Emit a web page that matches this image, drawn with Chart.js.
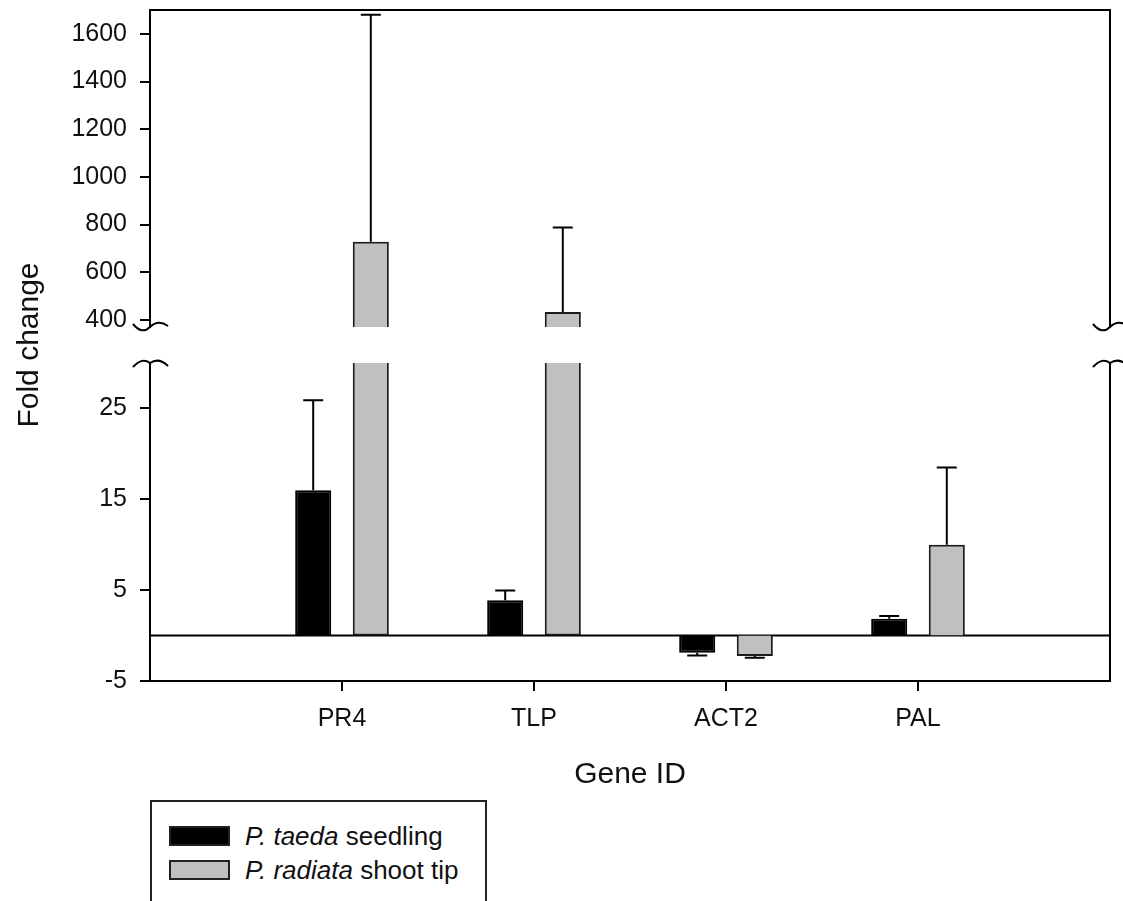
<!DOCTYPE html>
<html>
<head>
<meta charset="utf-8">
<script src="https://cdn.jsdelivr.net/npm/chart.js@4.4.1/dist/chart.umd.min.js"></script>
<style>
  body { margin: 0; background: #fff; }
  #wrap { position: relative; width: 1123px; height: 901px; }
  #legend {
    position: absolute; left: 150px; top: 800px; width: 333px; height: 140px;
    border: 2px solid #222; background: #fff;
    font-family: "Liberation Sans", Arial, sans-serif; font-size: 26px; color: #111;
  }
  #legend .row { position: absolute; left: 17px; height: 26px; display: flex; align-items: center; white-space: nowrap; }
  #legend .sw { width: 61px; height: 20px; box-sizing: border-box; border: 2px solid #222; margin-right: 15px; }
</style>
</head>
<body>
<div id="wrap">
  <canvas id="chart" width="1123" height="901"></canvas>
  <div id="legend">
    <div class="row" style="top:21px"><span class="sw" style="background:#000"></span><span><i>P. taeda</i> seedling</span></div>
    <div class="row" style="top:55px"><span class="sw" style="background:#c0c0c0"></span><span><i>P. radiata</i> shoot tip</span></div>
  </div>
</div>
<script>
// datos
const genes = ["PR4", "TLP", "ACT2", "PAL"];
const taedaMean = [16.0, 3.9, -1.9, 1.85];
const taedaErr = [9.9, 1.05, 0.3, 0.3];
const radiataMean = [728, 433, -2.25, 10.0];
const radiataErr = [952, 354, 0.2, 8.5];

// eje Y partido
const upperTicks = [400, 600, 800, 1000, 1200, 1400, 1600];
const lowerTicks = [-5, 5, 15, 25];
const upperRange = [370, 1700];
const lowerRange = [-5, 30];

const FONT = '"Liberation Sans", Arial, sans-serif';

// etiquetas con huecos a los lados (el eje deja media categoria extra)
const labels = ["", ...genes, ""];
const pad = (arr) => [null, ...arr, null];

const grayLow = radiataMean.map((v) => [0, Math.min(v, lowerRange[1])]);
const grayHigh = radiataMean.map((v) => (v > upperRange[0] ? [upperRange[0], v] : null));

function drawErr(ctx, x, scale, v, e) {
  const dir = v < 0 ? -1 : 1;
  const y0 = scale.getPixelForValue(v);
  const y1 = scale.getPixelForValue(v + dir * e);
  ctx.beginPath();
  ctx.moveTo(x, y0);
  ctx.lineTo(x, y1);
  ctx.moveTo(x - 10, y1);
  ctx.lineTo(x + 10, y1);
  ctx.stroke();
}

function squiggle(ctx, x, y, lower) {
  ctx.beginPath();
  if (!lower) {
    ctx.moveTo(x - 17, y - 3);
    ctx.quadraticCurveTo(x - 8, y + 8, x, y);
    ctx.quadraticCurveTo(x + 8, y - 8, x + 18, y - 1);
  } else {
    ctx.moveTo(x - 17, y + 4);
    ctx.quadraticCurveTo(x - 8, y - 6, x, y);
    ctx.quadraticCurveTo(x + 9, y - 6, x + 18, y + 3);
  }
  ctx.stroke();
}

const framePlugin = {
  id: "frame",
  beforeDatasetsDraw(chart) {
    const { ctx, chartArea } = chart;
    const y0 = chart.scales.yBot.getPixelForValue(0);
    ctx.save();
    ctx.strokeStyle = "#000";
    ctx.lineWidth = 2;
    ctx.beginPath();
    ctx.moveTo(chartArea.left, y0);
    ctx.lineTo(chartArea.right, y0);
    ctx.stroke();
    ctx.restore();
  },
  afterDatasetsDraw(chart) {
    const { ctx, chartArea } = chart;
    const top = chart.scales.yTop;
    const bot = chart.scales.yBot;
    ctx.save();
    ctx.strokeStyle = "#000";
    ctx.lineWidth = 2;

    // barras de error
    const black = chart.getDatasetMeta(0).data;
    const gray = chart.getDatasetMeta(1).data;
    genes.forEach((g, i) => {
      drawErr(ctx, black[i + 1].x, bot, taedaMean[i], taedaErr[i]);
      const sc = radiataMean[i] > lowerRange[1] ? top : bot;
      drawErr(ctx, gray[i + 1].x, sc, radiataMean[i], radiataErr[i]);
    });

    // marco superior y derecho
    ctx.beginPath();
    ctx.moveTo(chartArea.left, chartArea.top);
    ctx.lineTo(chartArea.right, chartArea.top);
    ctx.lineTo(chartArea.right, top.bottom);
    ctx.moveTo(chartArea.right, bot.top);
    ctx.lineTo(chartArea.right, bot.bottom);
    ctx.stroke();

    // marcas de corte
    [chartArea.left, chartArea.right].forEach((x) => {
      squiggle(ctx, x, top.bottom, false);
      squiggle(ctx, x, bot.top, true);
    });
    ctx.restore();
  },
};

const yCommon = {
  type: "linear",
  position: "left",
  stack: "fold",
  stacked: false,
  grid: { drawOnChartArea: false, drawTicks: true, tickLength: 10, lineWidth: 2, color: "#000" },
  border: { display: true, color: "#000", width: 2 },
  ticks: {
    color: "#111",
    font: { size: 25, family: FONT },
    padding: 13,
    callback: (v) => String(v),
  },
  afterFit: (s) => {
    s.width = 150;
    s.paddingTop = 0;
    s.paddingBottom = 0;
  },
};

new Chart(document.getElementById("chart"), {
  type: "bar",
  data: {
    labels: labels,
    datasets: [
      {
        label: "P. taeda seedling",
        data: pad(taedaMean),
        yAxisID: "yBot",
        stack: "taeda",
        backgroundColor: "#000",
        borderColor: "#000",
        borderWidth: 2,
      },
      {
        label: "P. radiata shoot tip",
        data: pad(grayLow),
        yAxisID: "yBot",
        stack: "radiata",
        backgroundColor: "#c0c0c0",
        borderColor: "#1a1a1a",
        borderWidth: 2,
        borderSkipped: (c) => {
          const v = radiataMean[c.dataIndex - 1];
          return v !== undefined && v > lowerRange[1] ? "end" : "start";
        },
      },
      {
        label: "P. radiata shoot tip (arriba)",
        data: pad(grayHigh),
        yAxisID: "yTop",
        stack: "radiata",
        backgroundColor: "#c0c0c0",
        borderColor: "#1a1a1a",
        borderWidth: 2,
        borderSkipped: "start",
      },
    ],
  },
  options: {
    responsive: false,
    animation: false,
    categoryPercentage: 0.6,
    barPercentage: 0.626,
    layout: { padding: { top: 10, right: 13, left: 0, bottom: 0 } },
    plugins: { legend: { display: false }, tooltip: { enabled: false } },
    scales: {
      x: {
        type: "category",
        offset: false,
        grid: {
          offset: false,
          drawOnChartArea: false,
          drawTicks: true,
          tickLength: 10,
          lineWidth: 2,
          color: (c) => (c.tick && c.tick.label ? "#000" : "rgba(0,0,0,0)"),
        },
        border: { display: true, color: "#000", width: 2 },
        ticks: { color: "#111", font: { size: 25, family: FONT }, padding: 13, autoSkip: false, maxRotation: 0 },
        title: {
          display: true,
          text: "Gene ID",
          color: "#111",
          font: { size: 30, family: FONT },
          padding: { top: 0, bottom: 108 },
        },
        afterFit: (s) => {
          s.height = 220;
          s.paddingLeft = 0;
          s.paddingRight = 0;
        },
      },
      // en una pila Chart.js coloca arriba el ultimo eje declarado
      yBot: {
        ...yCommon,
        stackWeight: 318,
        min: lowerRange[0],
        max: lowerRange[1],
        afterBuildTicks: (s) => {
          s.ticks = lowerTicks.map((v) => ({ value: v }));
        },
      },
      yGap: {
        type: "linear",
        position: "left",
        stack: "fold",
        stackWeight: 36,
        grid: { display: false },
        border: { display: false },
        ticks: { display: false },
        title: {
          display: true,
          text: "Fold change",
          color: "#111",
          font: { size: 30, family: FONT },
          padding: { top: 12, bottom: 0 },
        },
        afterFit: (s) => {
          s.width = 150;
          s.paddingTop = 0;
          s.paddingBottom = 0;
        },
      },
      yTop: {
        ...yCommon,
        stackWeight: 317,
        min: upperRange[0],
        max: upperRange[1],
        afterBuildTicks: (s) => {
          s.ticks = upperTicks.map((v) => ({ value: v }));
        },
      },
    },
  },
  plugins: [framePlugin],
});
</script>
</body>
</html>
